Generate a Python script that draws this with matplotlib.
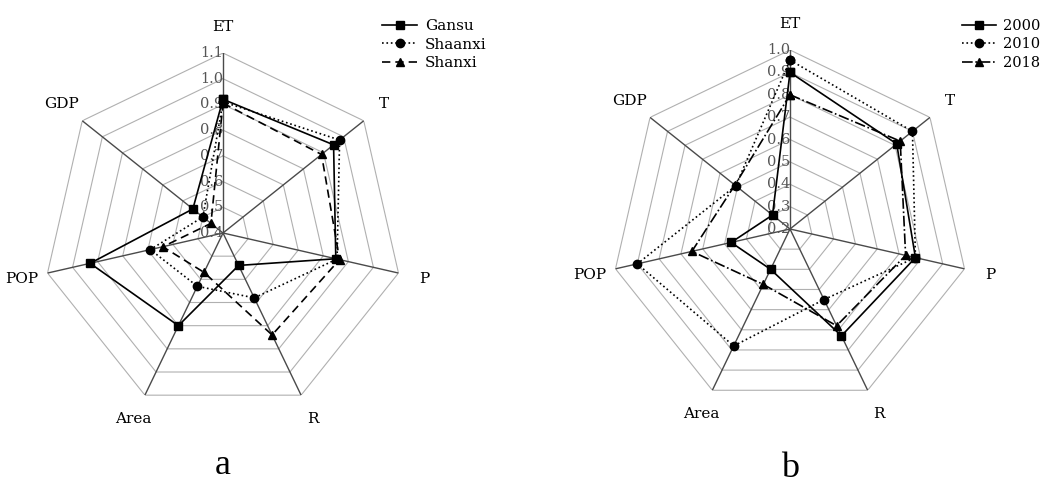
import numpy as np
import matplotlib
matplotlib.use("Agg")
import matplotlib.pyplot as plt

plt.rcParams['font.family'] = ['DejaVu Serif', 'Liberation Serif']

categories = ["ET", "T", "P", "R", "Area", "POP", "GDP"]

# Panel a
series_a_names = ["Gansu", "Shaanxi", "Shanxi"]
gansu = [0.92, 0.95, 0.85, 0.54, 0.80, 0.93, 0.55]
shaanxi = [0.91, 0.98, 0.855, 0.68, 0.63, 0.69, 0.50]
shanxi = [0.905, 0.89, 0.865, 0.84, 0.57, 0.64, 0.46]
ticks_a = [0.4, 0.5, 0.6, 0.7, 0.8, 0.9, 1.0, 1.1]

# Panel b
series_b_names = ["2000", "2010", "2018"]
y2000 = [0.90, 0.81, 0.775, 0.73, 0.40, 0.47, 0.30]
y2010 = [0.955, 0.90, 0.775, 0.55, 0.78, 0.90, 0.51]
y2018 = [0.80, 0.83, 0.73, 0.68, 0.475, 0.65, 0.515]
ticks_b = [0.2, 0.3, 0.4, 0.5, 0.6, 0.7, 0.8, 0.9, 1.0]

styles_a = [dict(ls='-', marker='s'), dict(ls=':', marker='o'), dict(ls=(0, (5, 3)), marker='^')]
styles_b = [dict(ls='-', marker='s'), dict(ls=':', marker='o'), dict(ls='-.', marker='^')]

fig = plt.figure(figsize=(10.46, 4.87), dpi=100)


def radar(rect, series, names, styles, ticks, legend_anchor, legend_fs, panel_label, label_y):
    ax = fig.add_axes(rect, projection='polar')
    n = len(categories)
    ang = np.arange(n) * 2 * np.pi / n
    ang_c = np.append(ang, ang[0])
    rmin, rmax = ticks[0], ticks[-1]
    ax.set_theta_offset(np.pi / 2)
    ax.set_theta_direction(-1)
    ax.set_ylim(rmin, rmax)
    ax.grid(False)
    ax.spines['polar'].set_visible(False)
    ax.set_xticks([])
    ax.set_yticks([])
    ax.patch.set_alpha(0)
    # rings
    for t in ticks[1:]:
        ax.plot(ang_c, [t] * (n + 1), color='#b0b0b0', lw=0.8, zorder=1)
    # spokes
    for a in ang:
        ax.plot([a, a], [rmin, rmax], color='#4a4a4a', lw=1.0, zorder=2)
    # tick labels
    for t in ticks:
        ax.text(0, t, f"{t:.1f}", ha='right', va='center', fontsize=10.5,
                color='#555555', zorder=3)
    # category labels
    for a, c in zip(ang, categories):
        ax.text(a, rmin + 1.145 * (rmax - rmin), c, ha='center', va='center', fontsize=11)
    handles = []
    for vals, name, st in zip(series, names, styles):
        v = list(vals) + [vals[0]]
        h, = ax.plot(ang_c, v, color='black', lw=1.2, ls=st['ls'], marker=st['marker'],
                     markersize=6, markerfacecolor='black', markeredgecolor='black',
                     label=name, zorder=4, clip_on=False)
        handles.append(h)
    fig.legend(handles=handles, loc='upper left', bbox_to_anchor=legend_anchor,
               frameon=False, fontsize=legend_fs, handlelength=2.3, handletextpad=0.5,
               labelspacing=0.3, borderpad=0, borderaxespad=0, numpoints=1)
    cx = rect[0] + rect[2] / 2
    fig.text(cx, label_y, panel_label, ha='center', va='bottom', fontsize=26,
             family=['Liberation Serif', 'DejaVu Serif'])
    return ax


radar([223 / 1046 - 180 / 1046, (487 - 233 - 180) / 487, 360 / 1046, 360 / 487],
      [gansu, shaanxi, shanxi], series_a_names, styles_a, ticks_a,
      (382 / 1046, 1 - 19 / 487), 11, "a", 5 / 487)
radar([(790 - 179) / 1046, (487 - 229 - 179) / 487, 358 / 1046, 358 / 487],
      [y2000, y2010, y2018], series_b_names, styles_b, ticks_b,
      (962 / 1046, 1 - 19 / 487), 10.5, "b", 2 / 487)

fig.savefig("out.png", dpi=100, facecolor='white')
